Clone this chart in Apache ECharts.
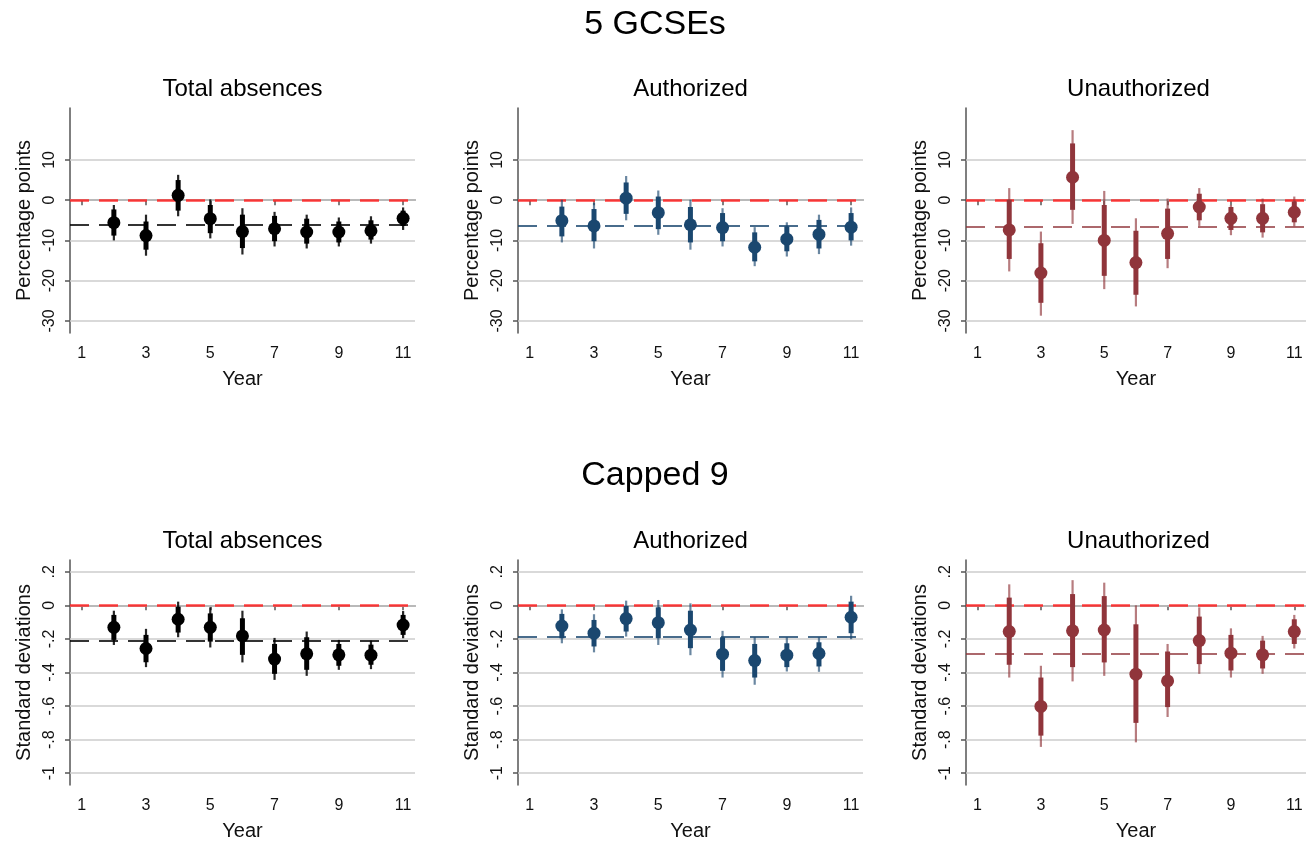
<!DOCTYPE html>
<html style="height: 100%">

<head>
  <meta charset="utf-8">
  <title>5 GCSEs / Capped 9</title>
</head>

<body style="height: 100%; margin: 0; background: #fff">
  <div id="container" style="width: 1306px; height: 843px"></div>
  <script type="text/javascript" src="https://cdn.jsdelivr.net/npm/echarts@6/dist/echarts.min.js"></script>
  <script type="text/javascript">
    // event-study estimates, years 2..11 (thick bar = 90% CI, thin bar = 95% CI)
    var years = [2, 3, 4, 5, 6, 7, 8, 9, 10, 11];
    var xTicks = [1, 3, 5, 7, 9, 11];

    var ppTicks = [10, 0, -10, -20, -30];
    var ppLabels = ['10', '0', '-10', '-20', '-30'];
    var sdTicks = [0.2, 0, -0.2, -0.4, -0.6, -0.8, -1];
    var sdLabels = ['.2', '0', '-.2', '-.4', '-.6', '-.8', '-1'];

    var titles = ['5 GCSEs', 'Capped 9'];
    var panelTitles = ['Total absences', 'Authorized', 'Unauthorized'];

    // 5 GCSEs - total absences
    var gTotCoef = [-5.6, -8.8, 1.2, -4.6, -7.8, -7.1, -7.9, -7.9, -7.6, -4.5];
    var gTotLo90 = [-8.8, -12.3, -2.6, -8.2, -11.9, -10.2, -10.8, -10.5, -9.8, -6.4];
    var gTotHi90 = [-2.3, -5.3, 5.0, -1.2, -3.6, -3.9, -4.6, -5.3, -5.0, -2.6];
    var gTotLo95 = [-10.0, -13.8, -4.0, -9.5, -13.5, -11.5, -12.0, -11.5, -10.8, -7.4];
    var gTotHi95 = [-1.2, -3.6, 6.3, 0.2, -2.0, -2.9, -3.6, -4.3, -4.0, -1.8];
    var gTotMean = -6.1;

    // 5 GCSEs - authorized
    var gAutCoef = [-5.1, -6.4, 0.5, -3.1, -6.1, -6.8, -11.7, -9.7, -8.5, -6.7];
    var gAutLo90 = [-9.0, -10.2, -3.4, -7.2, -10.5, -10.2, -15.2, -12.7, -12.0, -10.0];
    var gAutHi90 = [-1.6, -2.2, 4.4, 0.9, -1.7, -3.2, -8.0, -6.5, -4.9, -3.2];
    var gAutLo95 = [-10.5, -12.0, -5.0, -8.6, -12.3, -11.5, -16.4, -14.0, -13.4, -11.3];
    var gAutHi95 = [0.1, -0.7, 6.0, 2.4, 0.1, -2.0, -6.7, -5.5, -3.6, -1.8];
    var gAutMean = -6.4;

    // 5 GCSEs - unauthorized
    var gUnaCoef = [-7.4, -18.1, 5.7, -10.0, -15.5, -8.3, -1.7, -4.5, -4.5, -3.0];
    var gUnaLo90 = [-14.6, -25.5, -2.4, -18.8, -23.5, -14.6, -5.0, -7.4, -8.0, -5.5];
    var gUnaHi90 = [0.1, -10.7, 14.1, -1.2, -7.6, -2.1, 1.6, -1.7, -1.0, -0.3];
    var gUnaLo95 = [-17.7, -28.7, -5.9, -22.1, -26.4, -16.9, -6.4, -8.7, -9.3, -6.5];
    var gUnaHi95 = [3.0, -7.8, 17.4, 2.3, -4.5, 0.4, 3.0, -1.2, 0.4, 0.9];
    var gUnaMean = -6.6;

    // Capped 9 - total absences
    var cTotCoef = [-0.131, -0.257, -0.083, -0.131, -0.182, -0.320, -0.289, -0.295, -0.297, -0.117];
    var cTotLo90 = [-0.206, -0.339, -0.162, -0.216, -0.295, -0.408, -0.384, -0.360, -0.354, -0.176];
    var cTotHi90 = [-0.057, -0.176, -0.008, -0.048, -0.077, -0.230, -0.190, -0.230, -0.234, -0.057];
    var cTotLo95 = [-0.236, -0.368, -0.190, -0.251, -0.340, -0.444, -0.420, -0.384, -0.380, -0.196];
    var cTotHi95 = [-0.032, -0.140, 0.022, -0.012, -0.032, -0.194, -0.156, -0.206, -0.210, -0.034];
    var cTotMean = -0.21;

    // Capped 9 - authorized
    var cAutCoef = [-0.123, -0.166, -0.079, -0.103, -0.147, -0.291, -0.329, -0.297, -0.287, -0.071];
    var cAutLo90 = [-0.196, -0.245, -0.156, -0.196, -0.255, -0.390, -0.430, -0.368, -0.364, -0.166];
    var cAutHi90 = [-0.051, -0.087, -0.004, -0.012, -0.032, -0.190, -0.230, -0.226, -0.220, 0.022];
    var cAutLo95 = [-0.226, -0.280, -0.186, -0.236, -0.297, -0.430, -0.473, -0.394, -0.396, -0.202];
    var cAutHi95 = [-0.024, -0.053, 0.028, 0.032, 0.012, -0.152, -0.190, -0.190, -0.190, 0.057];
    var cAutMean = -0.19;

    // Capped 9 - unauthorized
    var cUnaCoef = [-0.156, -0.602, -0.152, -0.147, -0.410, -0.450, -0.210, -0.285, -0.295, -0.156];
    var cUnaLo90 = [-0.354, -0.776, -0.368, -0.340, -0.700, -0.606, -0.350, -0.388, -0.376, -0.230];
    var cUnaHi90 = [0.046, -0.430, 0.067, 0.055, -0.113, -0.275, -0.067, -0.176, -0.210, -0.083];
    var cUnaLo95 = [-0.430, -0.843, -0.453, -0.420, -0.816, -0.665, -0.408, -0.430, -0.408, -0.257];
    var cUnaHi95 = [0.125, -0.360, 0.150, 0.135, 0.000, -0.230, -0.012, -0.137, -0.182, -0.057];
    var cUnaMean = -0.287;

    var FONT = '"Liberation Sans", Arial, sans-serif';
    var colors = ['#000000', '#1a476f', '#90353b'];
    var thinColors = ['rgba(0,0,0,0.85)', 'rgba(26,71,111,0.65)', 'rgba(144,53,59,0.65)'];
    var meanColors = ['rgba(0,0,0,0.8)', 'rgba(26,71,111,0.8)', 'rgba(144,53,59,0.75)'];

    var panels = [
      [gTotCoef, gTotLo90, gTotHi90, gTotLo95, gTotHi95, gTotMean],
      [gAutCoef, gAutLo90, gAutHi90, gAutLo95, gAutHi95, gAutMean],
      [gUnaCoef, gUnaLo90, gUnaHi90, gUnaLo95, gUnaHi95, gUnaMean],
      [cTotCoef, cTotLo90, cTotHi90, cTotLo95, cTotHi95, cTotMean],
      [cAutCoef, cAutLo90, cAutHi90, cAutLo95, cAutHi95, cAutMean],
      [cUnaCoef, cUnaLo90, cUnaHi90, cUnaLo95, cUnaHi95, cUnaMean]
    ];

    var gridLefts = [70, 518, 966];
    var gridTops = [108, 560];
    var gridW = 345, gridH = 225;

    function ciRender(color, thin) {
      return function (params, api) {
        var x = api.value(0);
        var p = api.coord([x, api.value(1)]);
        var a = api.coord([x, api.value(2)]);
        var b = api.coord([x, api.value(3)]);
        var c = api.coord([x, api.value(4)]);
        var d = api.coord([x, api.value(5)]);
        return {
          type: 'group',
          children: [
            { type: 'line', shape: { x1: c[0], y1: c[1], x2: d[0], y2: d[1] }, style: { stroke: thin, lineWidth: 2.2 } },
            { type: 'line', shape: { x1: a[0], y1: a[1], x2: b[0], y2: b[1] }, style: { stroke: color, lineWidth: 5 } },
            { type: 'circle', shape: { cx: p[0], cy: p[1], r: 6.5 }, style: { fill: color } }
          ]
        };
      };
    }

    function labelFor(ticks, labels) {
      return function (v) {
        for (var i = 0; i < ticks.length; i++) {
          if (Math.abs(ticks[i] - v) < 1e-6) return labels[i];
        }
        return '';
      };
    }

    var option = {
      backgroundColor: '#fff',
      animation: false,
      title: [],
      grid: [],
      xAxis: [],
      yAxis: [],
      series: []
    };

    option.title.push({ text: titles[0], left: 655, top: 8, textAlign: 'center', padding: 0,
      textStyle: { fontFamily: FONT, fontSize: 34, fontWeight: 'normal', color: '#000' } });
    option.title.push({ text: titles[1], left: 655, top: 459, textAlign: 'center', padding: 0,
      textStyle: { fontFamily: FONT, fontSize: 34, fontWeight: 'normal', color: '#000' } });

    for (var k = 0; k < 6; k++) {
      var row = Math.floor(k / 3), col = k % 3;
      var isPP = row === 0;
      var ticks = isPP ? ppTicks : sdTicks;
      var labels = isPP ? ppLabels : sdLabels;
      var pan = panels[k];

      option.title.push({ text: panelTitles[col], left: gridLefts[col] + gridW / 2, top: gridTops[row] - 31,
        textAlign: 'center', padding: 0,
        textStyle: { fontFamily: FONT, fontSize: 24, fontWeight: 'normal', color: '#000' } });

      option.grid.push({ left: gridLefts[col], top: gridTops[row], width: gridW, height: gridH });

      option.xAxis.push({
        type: 'value', gridIndex: k, min: 0.635, max: 11.37,
        name: 'Year', nameLocation: 'middle', nameGap: 36,
        nameTextStyle: { fontFamily: FONT, fontSize: 20, color: '#111' },
        axisLine: { lineStyle: { color: '#555', width: 1.5 } },
        axisTick: { length: 5, customValues: xTicks, lineStyle: { color: '#555', width: 1.5 } },
        axisLabel: { customValues: xTicks, margin: 13, fontFamily: FONT, fontSize: 16, color: '#111' },
        splitLine: { show: false }
      });

      option.yAxis.push({
        type: 'value', gridIndex: k,
        min: isPP ? -33 : -1.07, max: isPP ? 22.9 : 0.27,
        name: isPP ? 'Percentage points' : 'Standard deviations',
        nameLocation: 'middle', nameGap: 36,
        nameTextStyle: { fontFamily: FONT, fontSize: 20, color: '#111' },
        axisLine: { show: true, lineStyle: { color: '#555', width: 1.5 } },
        axisTick: { show: true, length: 5, customValues: ticks, lineStyle: { color: '#555', width: 1.5 } },
        axisLabel: { customValues: ticks, rotate: 90, margin: 12, fontFamily: FONT, fontSize: 16, color: '#111',
          formatter: labelFor(ticks, labels) },
        splitLine: { show: false }
      });

      // gridlines
      option.series.push({
        type: 'scatter', xAxisIndex: k, yAxisIndex: k, data: [], z: 1, silent: true,
        markLine: {
          z: 1, silent: true, symbol: 'none', label: { show: false }, animation: false,
          lineStyle: { color: '#cccccc', width: 1.5, type: 'solid' },
          data: ticks.map(function (t) { return { yAxis: t }; })
        }
      });

      // zero line and mean line
      option.series.push({
        type: 'scatter', xAxisIndex: k, yAxisIndex: k, data: [], z: 2, silent: true,
        markLine: {
          z: 2, silent: true, symbol: 'none', label: { show: false }, animation: false,
          data: [
            { yAxis: 0, lineStyle: { color: 'rgba(255,30,30,0.85)', width: 2.5, type: [19, 10] } },
            { yAxis: pan[5], lineStyle: { color: meanColors[col], width: 2, type: [19, 10] } }
          ]
        }
      });

      var rows = years.map(function (y, i) {
        return [y, pan[0][i], pan[1][i], pan[2][i], pan[3][i], pan[4][i]];
      });
      option.series.push({
        type: 'custom', xAxisIndex: k, yAxisIndex: k, z: 10, silent: true,
        renderItem: ciRender(colors[col], thinColors[col]),
        encode: { x: 0, y: [1, 2, 3, 4, 5] },
        data: rows
      });
    }

    var dom = document.getElementById('container');
    var myChart = echarts.init(dom, null, { renderer: 'canvas' });
    myChart.setOption(option);
  </script>
</body>

</html>
